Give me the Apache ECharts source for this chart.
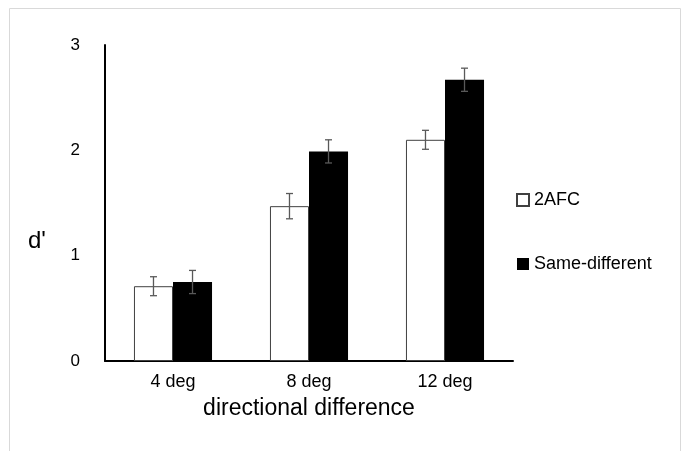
<!DOCTYPE html>
<html><head><meta charset="utf-8">
<script src="https://cdn.jsdelivr.net/npm/echarts@6/dist/echarts.min.js"></script>
<style>html,body{margin:0;padding:0;background:#fff}#c{width:688px;height:451px}</style>
</head><body><div id="c"></div>
<script>
const categories = ['4 deg', '8 deg', '12 deg'];
const seriesNames = ['2AFC', 'Same-different'];
const afcValues = [0.71, 1.47, 2.10];
const sdValues = [0.75, 1.99, 2.67];
const afcErrors = [0.09, 0.12, 0.09];
const sdErrors = [0.11, 0.11, 0.11];
const yTicks = [0, 1, 2, 3];

const GAP = 0.426;
function errRender(values, errors, side) {
  return function (params, api) {
    const i = api.value(0);
    const v = values[i], e = errors[i];
    const band = api.size([1, 0])[0];
    const bw = band * (1 - GAP) / 2;
    const c = api.coord([i, v]);
    const x = c[0] + side * bw / 2;
    const yt = api.coord([i, v + e])[1];
    const yb = api.coord([i, v - e])[1];
    const st = { stroke: '#595959', lineWidth: 1.3 };
    return { type: 'group', children: [
      { type: 'line', shape: { x1: x, y1: yt, x2: x, y2: yb }, style: st },
      { type: 'line', shape: { x1: x - 3.5, y1: yt, x2: x + 3.5, y2: yt }, style: st },
      { type: 'line', shape: { x1: x - 3.5, y1: yb, x2: x + 3.5, y2: yb }, style: st }
    ]};
  };
}

const chart = echarts.init(document.getElementById('c'), null, { renderer: 'canvas' });
const FONT = 'Liberation Sans, Arial, sans-serif';
chart.setOption({
  animation: false,
  textStyle: { fontFamily: FONT },
  graphic: [
    { type: 'rect', shape: { x: 9.5, y: 8.5, width: 671, height: 460 }, style: { fill: 'none', stroke: '#d9d9d9', lineWidth: 1 }, silent: true },
    { type: 'text', left: 28, top: 229, style: { text: "d'", font: '24px ' + FONT, fill: '#000' } }
  ],
  grid: { left: 105, right: 175, top: 45, bottom: 90 },
  legend: {
    orient: 'vertical', left: 511, top: 186, itemGap: 46,
    itemWidth: 12, itemHeight: 12, icon: 'rect',
    textStyle: { fontSize: 18, color: '#000', fontFamily: FONT },
    data: seriesNames
  },
  xAxis: {
    type: 'category', data: categories,
    axisLine: { lineStyle: { color: '#000', width: 2 } },
    axisTick: { show: false },
    axisLabel: { fontSize: 18, color: '#000', margin: 12 },
    name: 'directional difference', nameLocation: 'middle', nameGap: 36,
    nameTextStyle: { fontSize: 23, color: '#000' }
  },
  yAxis: {
    type: 'value', min: yTicks[0], max: yTicks[yTicks.length - 1], interval: 1,
    axisLine: { show: true, lineStyle: { color: '#000', width: 2 } },
    axisTick: { show: false },
    splitLine: { show: false },
    axisLabel: { fontSize: 17, color: '#000', margin: 25 }
  },
  series: [
    { name: seriesNames[0], type: 'bar', data: afcValues, barGap: '0%', barCategoryGap: (GAP * 100) + '%',
      itemStyle: { color: '#fff', borderColor: '#404040', borderWidth: 1 } },
    { name: seriesNames[1], type: 'bar', data: sdValues,
      itemStyle: { color: '#000' } },
    { type: 'custom', data: categories.map((c, i) => [i]), renderItem: errRender(afcValues, afcErrors, -1), z: 10, silent: true },
    { type: 'custom', data: categories.map((c, i) => [i]), renderItem: errRender(sdValues, sdErrors, 1), z: 10, silent: true }
  ]
});
</script></body></html>
